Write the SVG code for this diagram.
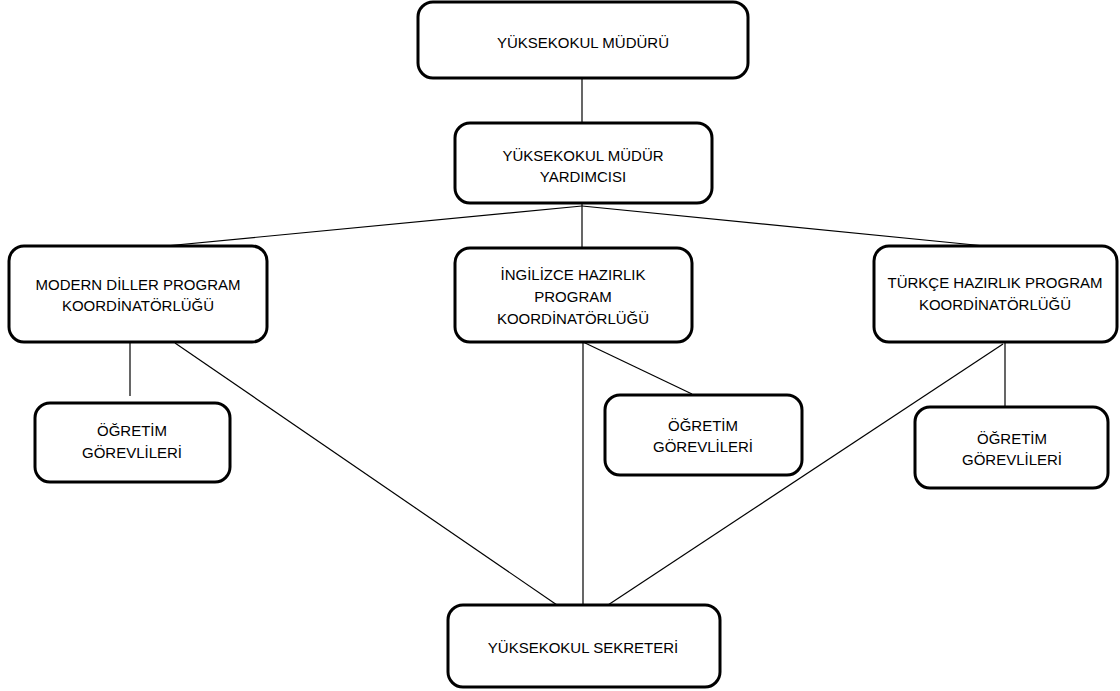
<svg xmlns="http://www.w3.org/2000/svg" width="1120" height="691" viewBox="0 0 1120 691">
<style>
.box{fill:#fff;stroke:#000;stroke-width:3}
.t{font-family:"Liberation Sans",Arial,sans-serif;font-size:15px;fill:#000;text-anchor:middle}
.c line{stroke:#000;stroke-width:1.2}
</style>
<rect width="1120" height="691" fill="#fff"/>
<g class="c" id="connectors">
<line x1="582" y1="78" x2="582" y2="123"/>
<line x1="582" y1="203" x2="582" y2="248"/>
<line x1="582" y1="206" x2="155" y2="247"/>
<line x1="582" y1="206" x2="985" y2="246"/>
<line x1="130" y1="342" x2="130" y2="396"/>
<line x1="175" y1="343" x2="557" y2="605"/>
<line x1="583" y1="342" x2="583" y2="605"/>
<line x1="583" y1="342" x2="692" y2="394"/>
<line x1="1005" y1="342" x2="1005" y2="407"/>
<line x1="1003" y1="344" x2="608" y2="605"/>
</g>
<g id="mudur"><rect class="box" x="418" y="2" width="330" height="76" rx="15"/><text class="t" x="583" y="48">YÜKSEKOKUL MÜDÜRÜ</text></g>
<g id="yardimci"><rect class="box" x="455" y="123" width="257" height="80" rx="15"/><text class="t" x="583" y="161">YÜKSEKOKUL MÜDÜR</text><text class="t" x="583" y="182">YARDIMCISI</text></g>
<g id="modern"><rect class="box" x="9" y="246" width="258" height="96" rx="15"/><text class="t" x="138" y="290">MODERN DİLLER PROGRAM</text><text class="t" x="138" y="311">KOORDİNATÖRLÜĞÜ</text></g>
<g id="ingilizce"><rect class="box" x="455" y="248" width="237" height="94" rx="15"/><text class="t" x="573" y="280">İNGİLİZCE HAZIRLIK</text><text class="t" x="573" y="302">PROGRAM</text><text class="t" x="573" y="324">KOORDİNATÖRLÜĞÜ</text></g>
<g id="turkce"><rect class="box" x="874" y="246" width="243" height="96" rx="15"/><text class="t" x="995" y="288">TÜRKÇE HAZIRLIK PROGRAM</text><text class="t" x="995" y="310">KOORDİNATÖRLÜĞÜ</text></g>
<g id="ogretim1"><rect class="box" x="35" y="403" width="195" height="79" rx="15"/><text class="t" x="132" y="436">ÖĞRETİM</text><text class="t" x="132" y="458">GÖREVLİLERİ</text></g>
<g id="ogretim2"><rect class="box" x="605" y="395" width="197" height="80" rx="15"/><text class="t" x="703" y="431">ÖĞRETİM</text><text class="t" x="703" y="452">GÖREVLİLERİ</text></g>
<g id="ogretim3"><rect class="box" x="915" y="407" width="193" height="81" rx="15"/><text class="t" x="1012" y="444">ÖĞRETİM</text><text class="t" x="1012" y="465">GÖREVLİLERİ</text></g>
<g id="sekreter"><rect class="box" x="448" y="605" width="272" height="82" rx="15"/><text class="t" x="583" y="653">YÜKSEKOKUL SEKRETERİ</text></g>
</svg>
